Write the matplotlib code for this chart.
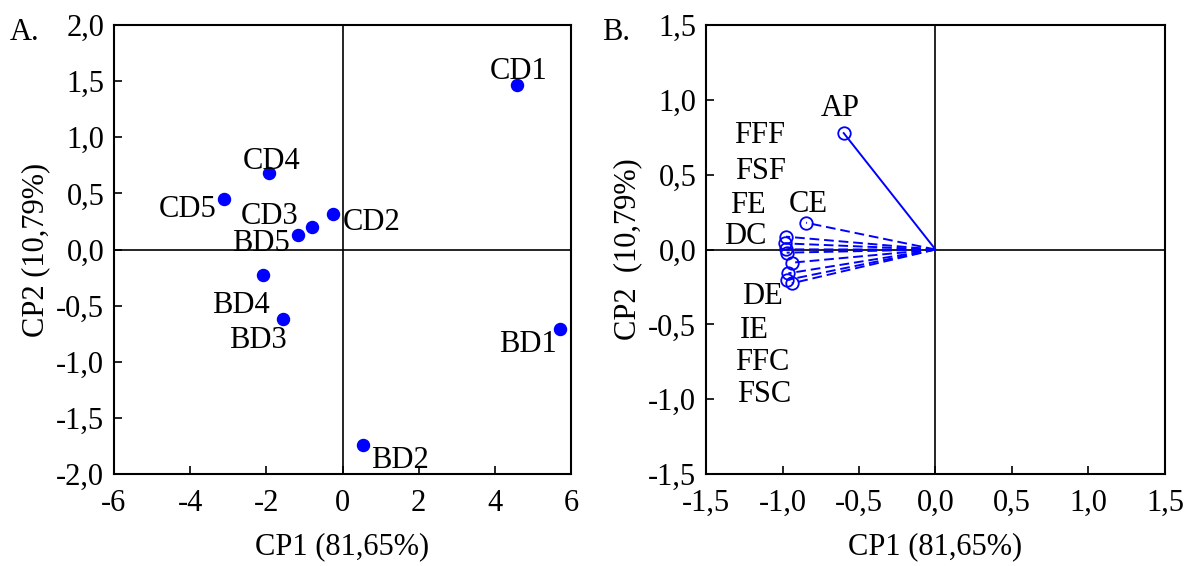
import matplotlib
matplotlib.use("Agg")
import matplotlib.pyplot as plt
import matplotlib.ticker as ticker

# ── Dados ──────────────────────────────────────────────────────────────────────
# Painel A: escores das amostras
AMOSTRAS = ["CD1", "CD4", "CD5", "CD3", "CD2", "BD5", "BD4", "BD3", "BD1", "BD2"]
CP1_A    = [4.57, -1.92, -3.12, -0.81, -0.26, -1.18, -2.10, -1.55, 5.72, 0.55]
CP2_A    = [1.47, 0.68, 0.45, 0.20, 0.32, 0.13, -0.23, -0.62, -0.71, -1.74]
# posição dos rótulos (coordenadas dos dados)
LBL_XA   = [4.62, -1.87, -4.07, -1.91, 0.76, -2.13, -2.66, -2.23, 4.86, 1.50]
LBL_YA   = [1.59, 0.78, 0.36, 0.29, 0.24, 0.05, -0.50, -0.81, -0.85, -1.88]

# Painel B: cargas das variáveis (vetores)
VET_X    = [-0.60, -0.846, -0.977, -0.984, -0.977, -0.973, -0.94, -0.962, -0.973, -0.94]
VET_Y    = [0.778, 0.179, 0.086, 0.041, 0.001, -0.021, -0.088, -0.159, -0.204, -0.226]
VET_SOLIDO = [True, False, False, False, False, False, False, False, False, False]

VARIAVEIS = ["AP", "CE", "FFF", "FSF", "FE", "DC", "DE", "IE", "FFC", "FSC"]
LBL_XB   = [-0.624, -0.833, -1.147, -1.147, -1.225, -1.245, -1.134, -1.186, -1.134, -1.121]
LBL_YB   = [0.945, 0.304, 0.765, 0.518, 0.291, 0.084, -0.311, -0.538, -0.758, -0.972]

XTICKS_A = [-6, -4, -2, 0, 2, 4, 6]
YTICKS_A = [-2.0, -1.5, -1.0, -0.5, 0.0, 0.5, 1.0, 1.5, 2.0]
TICKS_B  = [-1.5, -1.0, -0.5, 0.0, 0.5, 1.0, 1.5]

AZUL = "#0000ff"
FS   = 22

plt.rcParams["font.family"] = ["Liberation Serif", "DejaVu Serif"]
plt.rcParams["font.size"] = FS


def virgula(fmt):
    return ticker.FuncFormatter(lambda v, p: (fmt % v).replace(".", ","))


def estilo(ax):
    ax.axhline(0, color="black", linewidth=1.2, zorder=1)
    ax.axvline(0, color="black", linewidth=1.2, zorder=1)
    ax.tick_params(direction="in", length=6, width=1.2, labelsize=FS)
    ax.tick_params(axis="x", pad=11)
    ax.tick_params(axis="y", pad=7)
    for s in ax.spines.values():
        s.set_linewidth(1.5)


fig = plt.figure(figsize=(11.85, 5.66), dpi=100)
axA = fig.add_axes([0.0962, 0.1625, 0.3857, 0.7933])
axB = fig.add_axes([0.5958, 0.1625, 0.3873, 0.7933])

# ── Painel A ──────────────────────────────────────────────────────────────────
axA.scatter(CP1_A, CP2_A, s=75, color=AZUL, zorder=3)
for nome, x, y in zip(AMOSTRAS, LBL_XA, LBL_YA):
    axA.text(x, y, nome, ha="center", va="center", fontsize=FS, zorder=4)
axA.set_xlim(-6, 6)
axA.set_ylim(-2, 2)
axA.set_xticks(XTICKS_A)
axA.set_yticks(YTICKS_A)
axA.yaxis.set_major_formatter(virgula("%.1f"))
axA.xaxis.set_major_formatter(ticker.FuncFormatter(lambda v, p: "%d" % v))
estilo(axA)
axA.set_xlabel("CP1 (81,65%)", fontsize=FS, labelpad=10)
axA.set_ylabel("CP2 (10,79%)", fontsize=FS, labelpad=4)
fig.text(0.008, 0.943, "A.", fontsize=FS, va="center")

# ── Painel B ──────────────────────────────────────────────────────────────────
for x, y, solido in zip(VET_X, VET_Y, VET_SOLIDO):
    ls = "-" if solido else (0, (5, 2.5))
    axB.plot([0, x], [0, y], color=AZUL, linewidth=1.4, linestyle=ls, zorder=2)
    axB.plot(x, y, marker="o", markersize=9, markerfacecolor="none",
             markeredgecolor=AZUL, markeredgewidth=1.3, linestyle="none", zorder=3)
for nome, x, y in zip(VARIAVEIS, LBL_XB, LBL_YB):
    axB.text(x, y, nome, ha="center", va="center", fontsize=FS, zorder=4)
axB.set_xlim(-1.5, 1.5)
axB.set_ylim(-1.5, 1.5)
axB.set_xticks(TICKS_B)
axB.set_yticks(TICKS_B)
axB.xaxis.set_major_formatter(virgula("%.1f"))
axB.yaxis.set_major_formatter(virgula("%.1f"))
estilo(axB)
axB.set_xlabel("CP1 (81,65%)", fontsize=FS, labelpad=10)
axB.set_ylabel("CP2  (10,79%)", fontsize=FS, labelpad=4)
fig.text(0.508, 0.943, "B.", fontsize=FS, va="center")

fig.savefig("out.png", dpi=100)
